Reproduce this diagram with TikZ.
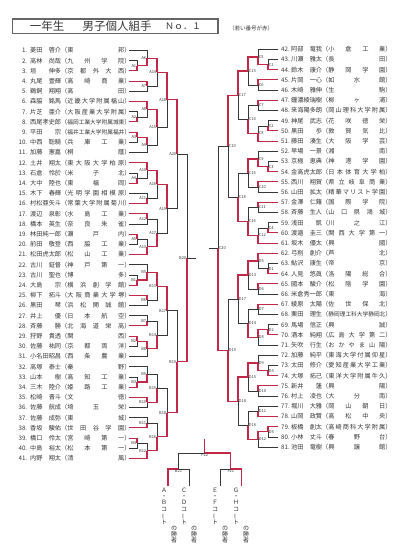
\documentclass[tikz,border=0pt]{standalone}
\usepackage{fontspec}
\setmainfont{Noto Sans CJK JP}
\setsansfont{Noto Sans CJK JP}
\usepackage{graphicx}
\usepackage{xcolor}
\usepackage{tikz}
\usetikzlibrary{calc,positioning}

\definecolor{winred}{RGB}{196,40,72}
\definecolor{inkgray}{RGB}{55,55,55}

\newsavebox\schbox
\newlength\schwd
\setlength\schwd{57pt}
\makeatletter
\newcommand\distr[1]{\def\ds@sep{}\@tfor\ds@c:=#1\do{\ds@sep\ds@c\def\ds@sep{\hfill}}}
\makeatother
\newcommand\school[1]{\sbox\schbox{#1}\ifdim\wd\schbox>\schwd\resizebox{\schwd}{!}{\usebox\schbox}\else\makebox[\schwd][l]{\distr{#1}}\fi}
\newcommand\vbar{\rotatebox[origin=c]{90}{ー}}

\tikzset{
    bline/.style={line width=0.5pt, inkgray},
    winline/.style={line width=1.1pt, winred},
    mlab/.style={anchor=east, inner sep=0.6pt, font=\fontsize{4}{4}\selectfont, inkgray},
    blab/.style={anchor=north, inner sep=0.8pt, font=\fontsize{4}{4}\selectfont, inkgray},
    rowtext/.style={anchor=west, inner sep=0pt, font=\fontsize{6.2}{6.2}\selectfont, inkgray},
    vtext/.style={anchor=north, inner sep=0pt, align=center, font=\fontsize{6}{6.4}\selectfont, inkgray},
}

\newcommand\match[5]{%
    \path let \p1=($(#3)!.5!(#4)$) in coordinate (#1) at (#2,\y1);
    \ifnum#5=1
        \draw[bline] (#4) -| (#1);
        \draw[winline] (#3) -| (#1);
    \else
        \draw[bline] (#3) -| (#1);
        \draw[winline] (#4) -| (#1);
    \fi
    \node[mlab] at (#1) {#1};
}

\begin{document}
\begin{tikzpicture}[x=1pt,y=-1pt]
    \fill[white] (0,0) rectangle (404,554);
    \useasboundingbox (0,0) rectangle (404,554);

    \draw[
        line width=1.2pt,
        black!60
        ] (12.7,19) rectangle (218,33.5);
    \node[font=\fontsize{11.5}{11.5}\selectfont, inkgray] (ttlgrade) at (47,26.3) {一年生};
    \node[font=\fontsize{11.5}{11.5}\selectfont, inkgray] (ttlevent) at (117,26.3) {男子個人組手};
    \node[font=\fontsize{9}{9}\selectfont, inkgray] (ttlno) at (183,26.6) {Ｎｏ．１};
    \node[font=\fontsize{5.5}{5.5}\selectfont, inkgray] (redrule) at (251,28.5) {（若い番号が赤）};

    \foreach \k/\nm/\sch in {
        1/菱田　啓介/東邦, 2/高林　尚哉/九州学院, 3/垣　　伸多/京都外大西,
        4/丸尾　壹輝/高崎商業, 5/鵜飼　翔翔/高田, 6/森脇　銘馬/近畿大学附属福山,
        7/片芝　亜介/大阪産業大学附属, 8/西尾孝史郎/福岡工業大学附属城東,
        9/平田　　宗/福井工業大学附属福井, 10/中西　聡騎/兵庫工業, 11/加藤　憲嘉/桐蔭,
        12/土井　翔太/東大阪大学柏原, 13/石倉　怜於/米子北, 14/大中　陸也/東福岡,
        15/木下　春輝/光明学園相模原, 16/村松亜矢斗/常葉大学附属菊川, 17/渡辺　泉彰/水島工業,
        18/橋本　英生/奈良朱雀, 19/林田純一郎/瀬戸内, 20/前田　敬登/西脇工業,
        21/松田虎太郎/松山工業, 22/古川　鉦督/神戸第一, 23/古川　聖也/博多,
        24/大島　　宗/横浜創学館, 25/柳下　拓斗/大阪商業大学堺, 26/黒田　　琴/浜松開誠館,
        27/井上　　優/日本航空, 28/斉藤　　勝/北海道栄高, 29/狩野　貴透/関西,
        30/佐藤　祐同/京都両洋, 31/小名田昭昌/西条農業, 32/高塚　泰士/秦野,
        33/山本　　樹/高知工業, 34/三木　陸介/姫路工業, 35/松崎　晋斗/文徳,
        36/佐藤　航成/埼玉栄, 37/佐藤　成弥/東城, 38/香坂　駿佑/世田谷学園,
        39/橋口　伶太/宮崎第一, 40/中島　裕太/松本第一, 41/内野　翔太/清風}{
        \coordinate (p\k) at (129,{50.5+(\k-1)*10.2});
        \node[rowtext] (n\k) at (13,{50.5+(\k-1)*10.2})
            {\makebox[14pt][r]{\k.}\hspace{3pt}\makebox[31pt][l]{\nm}（\expandafter\school\expandafter{\sch}）};
    }

    \foreach \k/\nm/\sch in {
        42/阿部　竜我/小倉工業, 43/川瀬　雅太/長田, 44/鈴木　康介/静岡学園,
        45/片岡　一心/如水館, 46/木崎　雅伸/生駒, 47/鐘濃綾瑞樹/柳ヶ浦,
        48/来海陽多朗/岡山理科大学附属, 49/神尾　武志/花咲徳栄, 50/黒田　　歩/敦賀気比,
        51/藤田　湊生/大阪学芸, 52/早場　一景/湘南, 53/京極　恵典/神港学園,
        54/金高虎太郎/日本体育大学柏, 55/西川　翔賀/県立岐阜商業, 56/山田　拡太/精華マリスト学園,
        57/金澤　仁薙/国際学院, 58/斉藤　生人/山口県鴻城, 59/浅田　　凱/川之江,
        60/渡邉　圭三/関西大学第一, 61/坂木　優太/興國, 62/弓削　創介/芦北,
        63/鮎沢　康生/帝京, 64/人見　悠眞/洛陽総合, 65/國本　駿介/松陰学園,
        66/米倉秀一郎/東海, 67/綾原　太陽/佐世保北, 68/栗田　理生/静岡理工科大学静岡北,
        69/馬場　信正/興誠, 70/酒本　純翔/広島大学第二, 71/矢吹　行生/おかやま山陽,
        72/加藤　純平/東海大学付属仰星, 73/太田　修介/愛知産業大学工業, 74/大塚　拓己/東洋大学附属牛久,
        75/新井　　蓮/興陽, 76/村上　凌也/大分南, 77/堀川　大雅/岡山朝日,
        78/山岡　政賢/高松中央, 79/板橋　創太/高崎商科大学附属, 80/小林　丈斗/春野台,
        81/池田　竜樹/興譲館}{
        \coordinate (p\k) at (278,{49.3+(\k-42)*10.2});
        \node[rowtext] (n\k) at (281,{49.3+(\k-42)*10.2})
            {\makebox[10pt][l]{\k.}\makebox[31pt][l]{\nm}（\expandafter\school\expandafter{\sch}）};
    }

    \foreach \m/\lv/\a/\b/\w in {
        A1/137/p2/p3/2, A2/137/p7/p8/2, A3/137/p9/p10/1, A4/137/p13/p14/2, A5/137/p19/p20/1,
        B1/137/p23/p24/2, B2/137/p29/p30/1, B3/137/p33/p34/2, B4/137/p39/p40/1,
        A6/147/p1/A1/2, A7/147/p4/p5/1, A8/147/p6/A2/1, A9/147/A3/p11/1,
        A10/147/p12/A4/1, A11/147/p15/p16/2, A12/147/p17/p18/1, A13/147/A5/p21/2,
        B5/147/p22/B1/2, B6/147/p25/p26/1, B7/147/p27/p28/2, B8/147/B2/p31/1,
        B9/147/p32/B3/2, B10/147/p35/p36/1, B11/147/p37/p38/2, B12/147/B4/p41/2,
        A14/157/A6/A7/1, A15/157/A8/A9/1, A16/157/A10/A11/1, A17/157/A12/A13/2,
        B13/157/B5/B6/1, B14/157/B7/B8/2, B15/157/B9/B10/2, B16/157/B11/B12/2,
        A18/167/A14/A15/1, A19/167/A16/A17/1, B17/167/B13/B14/1, B18/167/B15/B16/2,
        A20/177/A18/A19/1, B19/177/B17/B18/2,
        B20/187/A20/B19/2}{
        \match{\m}{\lv}{\a}{\b}{\w}
    }

    \begin{scope}[mlab/.append style={anchor=west}]
    \foreach \m/\lv/\a/\b/\w in {
        C1/268/p43/p44/2, C2/268/p49/p50/2, C3/268/p53/p54/2, C4/268/p59/p60/2,
        D1/268/p63/p64/2, D2/268/p69/p70/2, D3/268/p73/p74/2, D4/268/p79/p80/1,
        C5/258/p42/C1/2, C6/258/p45/p46/1, C7/258/p47/p48/1, C8/258/C2/p51/2,
        C9/258/p52/C3/2, C10/258/p55/p56/1, C11/258/p57/p58/1, C12/258/C4/p61/2,
        D5/258/p62/D1/1, D6/258/p65/p66/1, D7/258/p67/p68/1, D8/258/D2/p71/1,
        D9/258/p72/D3/2, D10/258/p75/p76/1, D11/258/p77/p78/2, D12/258/D4/p81/1,
        C13/248/C5/C6/1, C14/248/C7/C8/2, C15/248/C9/C10/1, C16/248/C11/C12/2,
        D13/248/D5/D6/1, D14/248/D7/D8/2, D15/248/D9/D10/1, D16/248/D11/D12/2,
        C17/238/C13/C14/1, C18/238/C15/C16/2, D17/238/D13/D14/1, D18/238/D15/D16/1,
        C19/228/C17/C18/1, D19/228/D17/D18/2,
        C20/218/C19/D19/2}{
        \match{\m}{\lv}{\a}{\b}{\w}
    }
    \end{scope}

    \coordinate (ABout) at ($(B20)+(9,0)$);
    \coordinate (CDout) at ($(C20)+(-9,0)$);
    \draw[bline] (B20) -- (ABout);
    \draw[bline] (C20) -- (CDout);

    \coordinate (ABleg) at (168,486);
    \coordinate (CDleg) at (189,486);
    \coordinate (EFleg) at (220,486);
    \coordinate (GHleg) at (241.7,486);
    \coordinate (B21) at (178.5,469);
    \coordinate (F21) at (230.85,469);
    \coordinate (F22) at (204.7,453);
    \coordinate (champ) at (204.7,438.5);

    \draw[bline] (CDleg) |- (B21);
    \draw[winline] (ABleg) |- (B21);
    \draw[bline] (EFleg) |- (F21);
    \draw[winline] (GHleg) |- (F21);
    \draw[bline] (B21) |- (F22);
    \draw[winline] (F21) |- (F22);
    \draw[winline] (F22) -- (champ);
    \node[blab] at (B21) {B21};
    \node[blab] at (F21) {F21};
    \node[blab] at (F22) {F22};

    \node[vtext] (abcourt) at (164,487.5) {Ａ\\・\\Ｂ\\コ\\\vbar\\ト};
    \node[vtext] (abwinner) at (174,525.5) {の\\勝\\者};
    \node[vtext] (cdcourt) at (184,487.5) {Ｃ\\・\\Ｄ\\コ\\\vbar\\ト};
    \node[vtext] (cdwinner) at (194,525.5) {の\\勝\\者};
    \node[vtext] (efcourt) at (215,487.5) {Ｅ\\・\\Ｆ\\コ\\\vbar\\ト};
    \node[vtext] (efwinner) at (225,525.5) {の\\勝\\者};
    \node[vtext] (ghcourt) at (236,487.5) {Ｇ\\・\\Ｈ\\コ\\\vbar\\ト};
    \node[vtext] (ghwinner) at (246,525.5) {の\\勝\\者};
\end{tikzpicture}
\end{document}
